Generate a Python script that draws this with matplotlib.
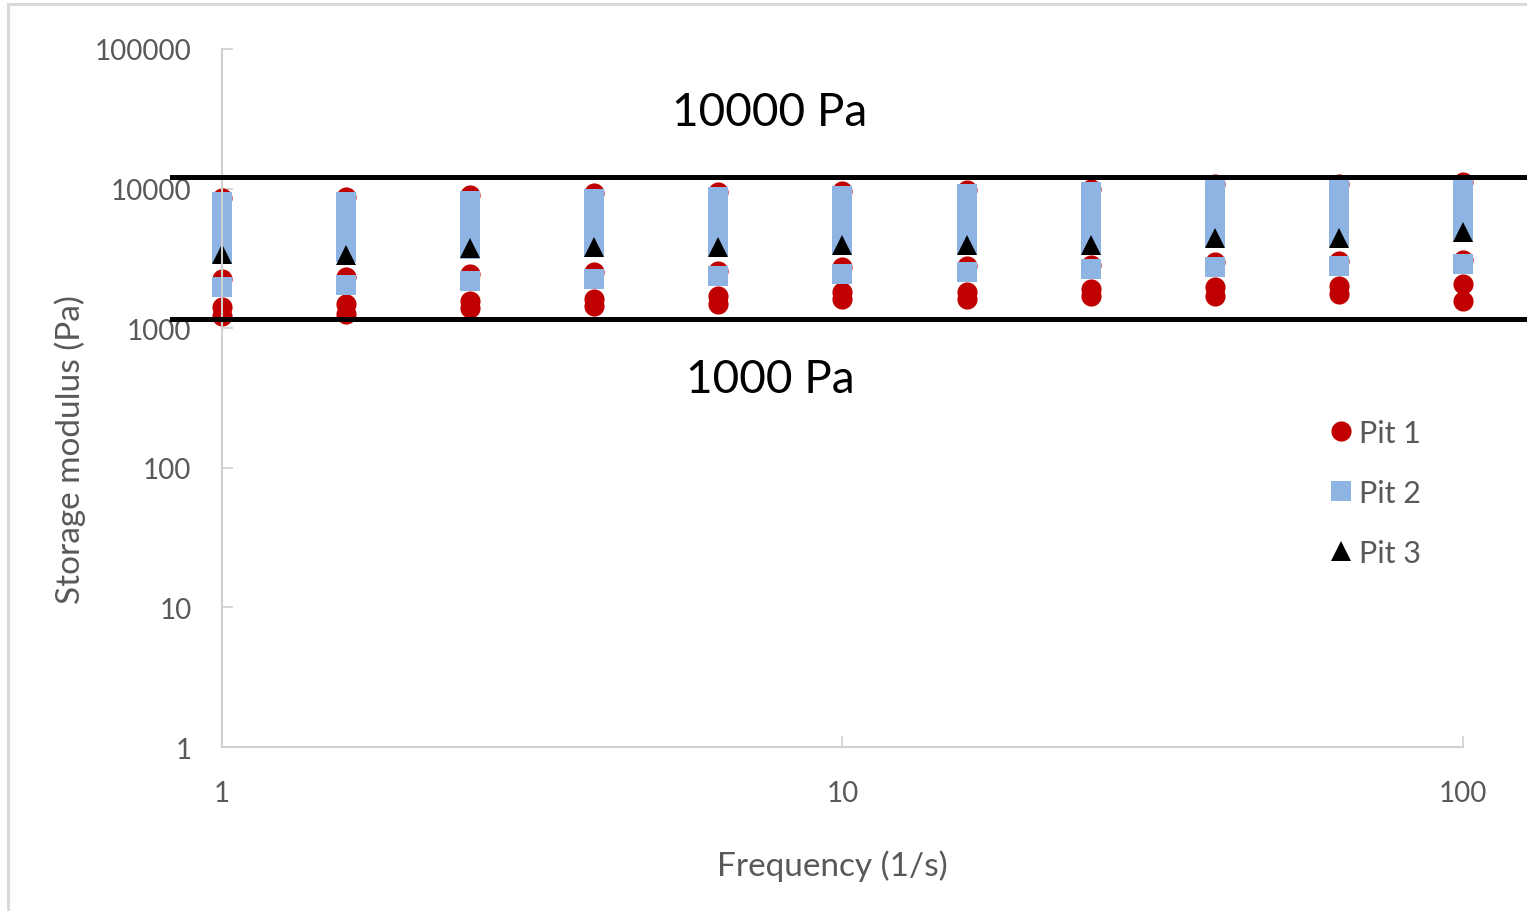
import matplotlib.pyplot as plt
from matplotlib.patches import Rectangle

plt.rcParams['font.family'] = ['Lato', 'DejaVu Sans']

# frequency (1/s)
freq = [1, 1.585, 2.512, 3.981, 6.31, 10, 15.85, 25.12, 39.81, 63.1, 100]

# storage modulus (Pa), one list per replicate
pit1_a = [8560, 8710, 9000, 9300, 9450, 9610, 9770, 9940, 10790, 10790, 11150]
pit1_b = [2250, 2330, 2450, 2530, 2570, 2740, 2790, 2840, 2980, 3030, 3080]
pit1_c = [1420, 1490, 1570, 1620, 1700, 1820, 1820, 1910, 1970, 2010, 2070]
pit1_d = [1220, 1260, 1400, 1440, 1490, 1620, 1620, 1700, 1700, 1760, 1570]

pit2_a = [8020, 8020, 8150, 8420, 8710, 8850, 9150, 9450, 9940, 9940, 9940]
pit2_b = [5960, 5960, 6060, 6260, 6470, 6580, 6800, 7030, 7380, 7380, 7760]
pit2_c = [4430, 4430, 4650, 4810, 4970, 5050, 5220, 5220, 5860, 5860, 6260]
pit2_d = [3400, 3520, 3690, 3820, 3880, 4010, 4010, 4010, 4500, 4500, 4890]
pit2_e = [1970, 2040, 2180, 2250, 2370, 2450, 2530, 2660, 2740, 2790, 2880]

pit3 = [3400, 3350, 3760, 3820, 3820, 3950, 3950, 3950, 4430, 4430, 4890]

upper_limit = 12100
lower_limit = 1160

grey = '#595959'

fig = plt.figure(figsize=(15.27, 9.12), dpi=100)
ax = fig.add_axes([0.1454, 0.1798, 0.8126, 0.7654])

for i, s in enumerate([pit1_a, pit1_b, pit1_c, pit1_d]):
    ax.plot(freq, s, 'o', color='#c00000', markersize=14.5, markeredgewidth=0,
            clip_on=False, label='Pit 1' if i == 0 else None)
for i, s in enumerate([pit2_a, pit2_b, pit2_c, pit2_d, pit2_e]):
    ax.plot(freq, s, 's', color='#8eb4e3', markersize=14.5, markeredgewidth=0,
            clip_on=False, label='Pit 2' if i == 0 else None)
ax.plot(freq, pit3, '^', color='black', markersize=15, markeredgewidth=0,
        clip_on=False, label='Pit 3')

ax.set_xscale('log')
ax.set_yscale('log')
ax.set_xlim(1, 100)
ax.set_ylim(1, 100000)
ax.minorticks_off()
ax.set_xticks([1, 10, 100])
ax.set_xticklabels(['1', '10', '100'])
ax.set_yticks([1, 10, 100, 1000, 10000, 100000])
ax.set_yticklabels(['1', '10', '100', '1000', '10000', '100000'])

for side in ['top', 'right']:
    ax.spines[side].set_visible(False)
for side in ['left', 'bottom']:
    ax.spines[side].set_color('#d0d0d0')
    ax.spines[side].set_linewidth(1.5)
ax.tick_params(axis='y', direction='in', length=8, width=1.2, color='#d0d0d0',
               labelcolor=grey, labelsize=20, pad=22)
ax.tick_params(axis='x', direction='in', length=8, width=1.2, color='#d0d0d0',
               labelcolor=grey, labelsize=20, pad=24)

ax.set_ylabel('Storage modulus (Pa)', fontsize=24, color=grey)
ax.yaxis.set_label_coords(-0.11, 0.427)
ax.set_xlabel('Frequency (1/s)', fontsize=24, color=grey)
ax.xaxis.set_label_coords(0.492, -0.147)

# limit lines, running past the plot area
for lim in [upper_limit, lower_limit]:
    ax.plot([-0.04, 1.1], [lim, lim], color='black', linewidth=3.6,
            transform=ax.get_yaxis_transform(), clip_on=False, zorder=5)

ax.text(0.4416, 0.9097, '10000 Pa', transform=ax.transAxes, fontsize=33,
        ha='center', va='center')
ax.text(0.4416, 0.527, '1000 Pa', transform=ax.transAxes, fontsize=33,
        ha='center', va='center')

leg = ax.legend(loc='upper left', bbox_to_anchor=(0.872, 0.51), frameon=False,
                fontsize=22, labelcolor=grey, handlelength=0.6,
                handletextpad=0.3, labelspacing=1.05, markerscale=1.0)

fig.patches.append(Rectangle((8 / 1527, -0.5), 2, 0.5 + 1 - 5 / 912,
                             transform=fig.transFigure, fill=False,
                             edgecolor='#d9d9d9', linewidth=2.2))

fig.savefig('out.png', dpi=100)
